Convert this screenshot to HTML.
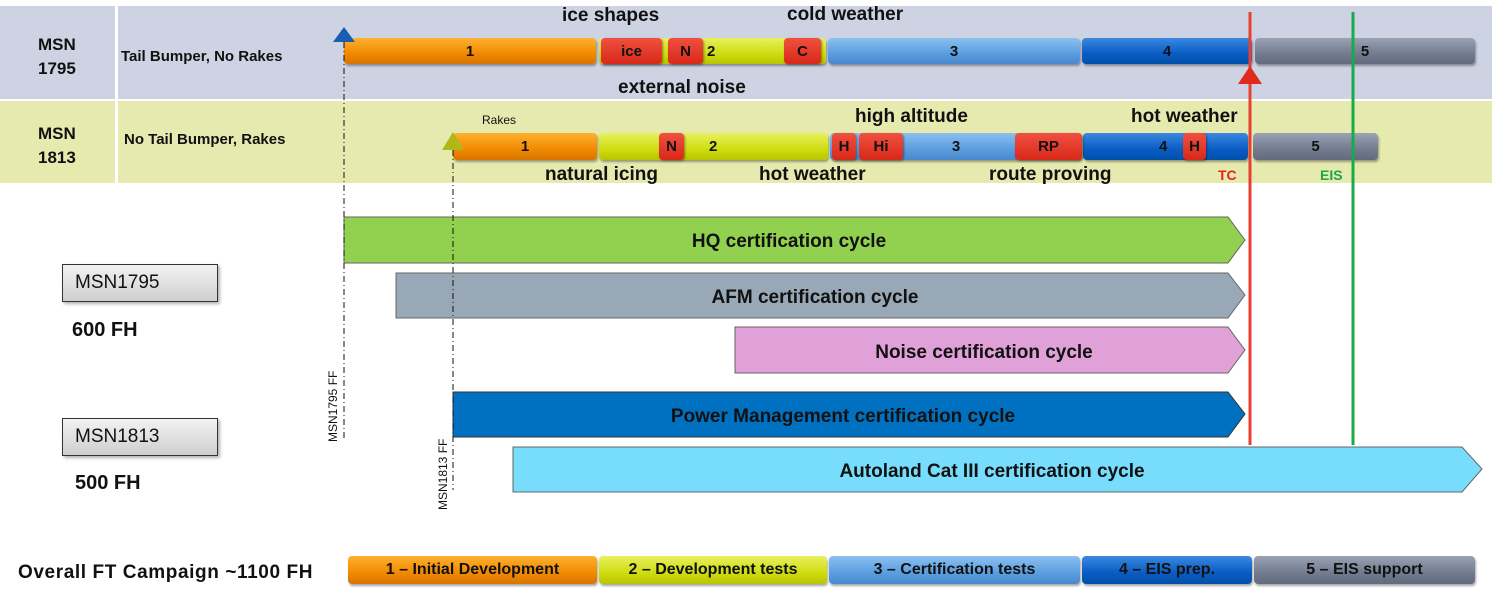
<!DOCTYPE html>
<html><head><meta charset="utf-8"><style>
*{margin:0;padding:0;box-sizing:border-box}
body{width:1492px;height:592px;background:#fff;position:relative;overflow:hidden;font-family:"Liberation Sans",Arial,sans-serif;font-weight:bold;color:#111}
.a{position:absolute}
.seg{position:absolute;border-radius:4px;display:flex;align-items:center;justify-content:center;font-size:15px;box-shadow:1px 2px 2px rgba(0,0,0,.35)}
.o{background:linear-gradient(#ffb030,#f18a00 60%,#d87400)}
.y{background:linear-gradient(#e8f060,#cfdd10 60%,#b8c400)}
.lb{background:linear-gradient(#8cc0f0,#5a9ee0 60%,#4a88cc)}
.db{background:linear-gradient(#3a88e0,#0a5cc4 60%,#0050a8)}
.gr{background:linear-gradient(#9aa2b4,#737b90 60%,#626a7e)}
.r{position:absolute;background:linear-gradient(#f05040,#d82818);border-radius:4px;display:flex;align-items:center;justify-content:center;font-size:15px;box-shadow:1px 1px 2px rgba(0,0,0,.4)}
.lbl{position:absolute;font-size:19px;white-space:nowrap}
.box{position:absolute;width:156px;height:38px;border:1px solid #333;background:linear-gradient(#f2f2f2,#cfcfcf);font-weight:normal;font-size:19px;padding:7px 0 0 12px;box-shadow:2px 2px 3px rgba(0,0,0,.3)}
</style></head><body>
<div class="a" style="left:0;top:6px;width:1492px;height:93px;background:#cdd3e2"></div>
<div class="a" style="left:0;top:101px;width:1492px;height:82px;background:#e6eaaf"></div>
<div class="a" style="left:115px;top:6px;width:3px;height:177px;background:#fff"></div>
<div class="lbl" style="left:38px;top:33px;font-size:17px;line-height:24px">MSN<br>1795</div>
<div class="lbl" style="left:38px;top:122px;font-size:17px;line-height:24px">MSN<br>1813</div>
<div class="lbl" style="left:121px;top:48px;font-size:15px">Tail Bumper, No Rakes</div>
<div class="lbl" style="left:124px;top:131px;font-size:15px">No Tail Bumper, Rakes</div>

<!-- row1 -->
<div class="seg o" style="left:344px;top:38px;width:252px;height:26px">1</div>
<div class="seg y" style="left:599px;top:38px;width:227px;height:26px"><span style="position:absolute;left:108px">2</span></div>
<div class="seg lb" style="left:828px;top:38px;width:252px;height:26px">3</div>
<div class="seg db" style="left:1082px;top:38px;width:170px;height:26px">4</div>
<div class="seg gr" style="left:1255px;top:38px;width:220px;height:26px">5</div>
<div class="r" style="left:601px;top:38px;width:61px;height:26px">ice</div>
<div class="r" style="left:668px;top:38px;width:35px;height:26px">N</div>
<div class="r" style="left:784px;top:38px;width:37px;height:26px">C</div>
<div class="lbl" style="left:562px;top:5px">ice shapes</div>
<div class="lbl" style="left:787px;top:4px">cold weather</div>
<div class="lbl" style="left:618px;top:77px">external noise</div>

<!-- row2 -->
<div class="lbl" style="left:482px;top:113px;font-size:12px;font-weight:normal">Rakes</div>
<div class="seg o" style="left:453px;top:133px;width:144px;height:27px">1</div>
<div class="seg y" style="left:599px;top:133px;width:229px;height:27px"><span style="position:absolute;left:110px">2</span></div>
<div class="seg lb" style="left:830px;top:133px;width:252px;height:27px">3</div>
<div class="seg db" style="left:1083px;top:133px;width:165px;height:27px"><span style="position:absolute;left:76px">4</span></div>
<div class="seg gr" style="left:1253px;top:133px;width:125px;height:27px">5</div>
<div class="r" style="left:659px;top:133px;width:25px;height:27px">N</div>
<div class="r" style="left:832px;top:133px;width:24px;height:27px">H</div>
<div class="r" style="left:859px;top:133px;width:44px;height:27px">Hi</div>
<div class="r" style="left:1015px;top:133px;width:67px;height:27px">RP</div>
<div class="r" style="left:1183px;top:133px;width:23px;height:27px">H</div>
<div class="lbl" style="left:855px;top:106px">high altitude</div>
<div class="lbl" style="left:1131px;top:106px">hot weather</div>
<div class="lbl" style="left:545px;top:164px">natural icing</div>
<div class="lbl" style="left:759px;top:164px">hot weather</div>
<div class="lbl" style="left:989px;top:164px">route proving</div>
<div class="lbl" style="left:1218px;top:167px;font-size:14px;color:#e0261a">TC</div>
<div class="lbl" style="left:1320px;top:167px;font-size:14px;color:#1aa84a">EIS</div>

<svg class="a" style="left:0;top:0" width="1492" height="592">
<polygon points="344,27 333,42 355,42" fill="#1a5cb0"/>
<polygon points="453,132 442,150 464,150" fill="#b0b818"/>
<polygon points="344,217 1228,217 1245,240 1228,263 344,263" fill="#92d050" stroke="#666"/>
<polygon points="396,273 1228,273 1245,295 1228,318 396,318" fill="#98a8b6" stroke="#666"/>
<polygon points="735,327 1228,327 1245,350 1228,373 735,373" fill="#e0a0d8" stroke="#666"/>
<polygon points="453,392 1228,392 1245,414 1228,437 453,437" fill="#0070c0" stroke="#333"/>
<polygon points="513,447 1462,447 1482,469 1462,492 513,492" fill="#78ddfc" stroke="#666"/>
<line x1="344" y1="42" x2="344" y2="440" stroke="#111" stroke-width="1" stroke-dasharray="6,3,1,3"/>
<line x1="453" y1="150" x2="453" y2="490" stroke="#111" stroke-width="1" stroke-dasharray="6,3,1,3"/>
<line x1="1250" y1="12" x2="1250" y2="445" stroke="#e84030" stroke-width="3"/>
<line x1="1353" y1="12" x2="1353" y2="445" stroke="#1aaa4a" stroke-width="3"/>
<polygon points="1250,66 1238,84 1262,84" fill="#e02a1a"/>
<text x="789" y="247" font-size="19" font-weight="bold" text-anchor="middle" fill="#111">HQ certification cycle</text>
<text x="815" y="303" font-size="19" font-weight="bold" text-anchor="middle" fill="#111">AFM certification cycle</text>
<text x="984" y="358" font-size="19" font-weight="bold" text-anchor="middle" fill="#111">Noise certification cycle</text>
<text x="843" y="422" font-size="19" font-weight="bold" text-anchor="middle" fill="#111">Power Management certification cycle</text>
<text x="992" y="477" font-size="19" font-weight="bold" text-anchor="middle" fill="#111">Autoland Cat III certification cycle</text>
<text transform="translate(337,442) rotate(-90)" font-size="12" font-weight="normal" fill="#111">MSN1795 FF</text>
<text transform="translate(447,510) rotate(-90)" font-size="12" font-weight="normal" fill="#111">MSN1813 FF</text>
</svg>

<div class="box" style="left:62px;top:264px">MSN1795</div>
<div class="box" style="left:62px;top:418px">MSN1813</div>
<div class="lbl" style="left:72px;top:319px;font-size:20px">600 FH</div>
<div class="lbl" style="left:75px;top:472px;font-size:20px">500 FH</div>
<div class="lbl" style="left:18px;top:562px;font-size:19px;letter-spacing:0.6px">Overall FT Campaign ~1100 FH</div>

<div class="seg o" style="left:348px;top:556px;width:249px;height:28px;font-size:16px">1 – Initial Development</div>
<div class="seg y" style="left:599px;top:556px;width:228px;height:28px;font-size:16px">2 – Development tests</div>
<div class="seg lb" style="left:829px;top:556px;width:251px;height:28px;font-size:16px">3 – Certification tests</div>
<div class="seg db" style="left:1082px;top:556px;width:170px;height:28px;font-size:16px">4 – EIS prep.</div>
<div class="seg gr" style="left:1254px;top:556px;width:221px;height:28px;font-size:16px">5 – EIS support</div>
</body></html>
